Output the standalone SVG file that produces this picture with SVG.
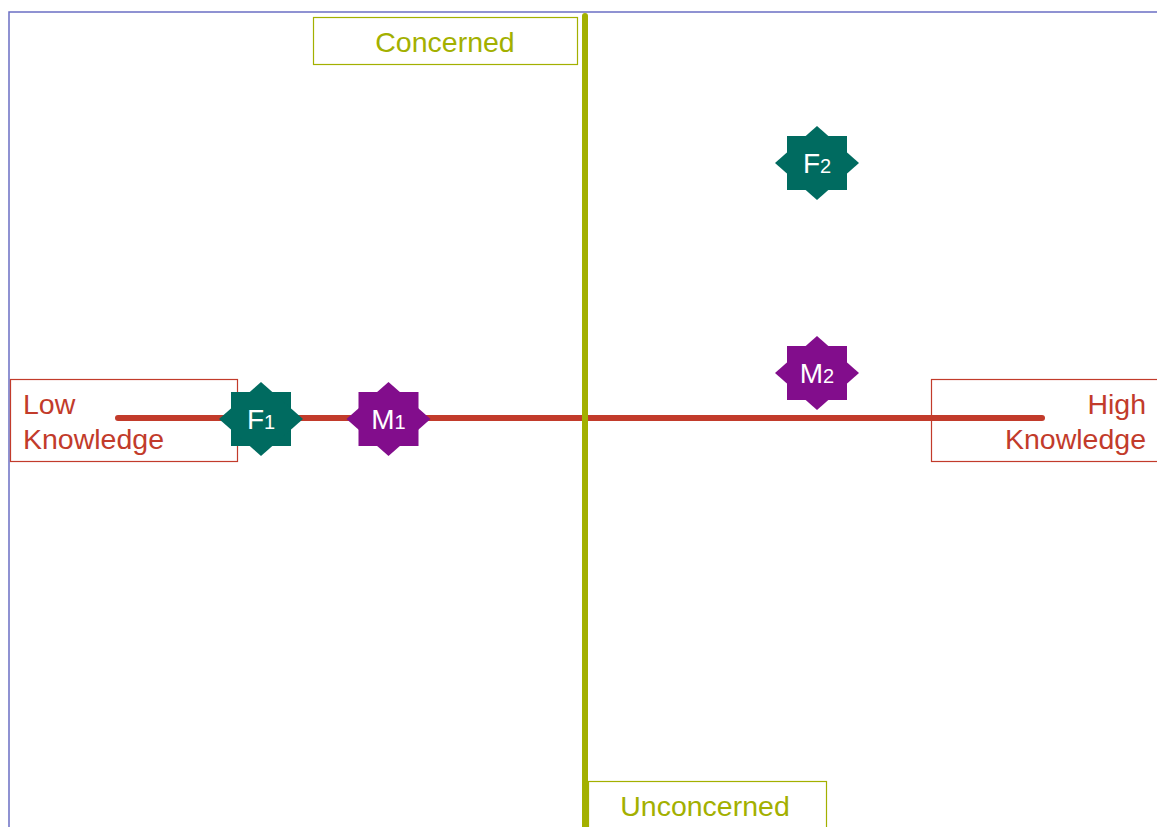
<svg xmlns="http://www.w3.org/2000/svg" width="1157" height="827" viewBox="0 0 1157 827">
<style>
.lbl{font-family:"Liberation Sans",Arial,sans-serif;font-size:28.5px}
.red{fill:#c23b2b}
.grn{fill:#a3b000}
.st{font-family:"Liberation Sans",Arial,sans-serif;fill:#ffffff;font-size:28px;text-anchor:middle}
.sub{font-size:20px}
.teal{fill:#006b60}
.purp{fill:#820d8c}
</style>
<defs>
<g id="star">
<rect x="-30" y="-27" width="60" height="54"/>
<polygon points="-42,0 0,-37 42,0 0,37"/>
</g>
</defs>
<rect width="1157" height="827" fill="#ffffff"/>
<g id="frame" fill="none" stroke="#6b6fc4" stroke-width="1.5">
<polyline points="9,827 9,12 1157,12"/>
</g>
<g id="connectors" stroke-linecap="round">
<line x1="118" y1="418" x2="1042" y2="418" stroke="#c23b2b" stroke-width="6"/>
<line x1="585" y1="16" x2="585" y2="830" stroke="#a3b000" stroke-width="6"/>
</g>
<g id="concerned">
<rect x="313.5" y="17.5" width="264" height="47" fill="none" stroke="#a3b000" stroke-width="1.2"/>
<text class="lbl grn" x="445" y="52" text-anchor="middle">Concerned</text>
</g>
<g id="unconcerned">
<rect x="588.5" y="781.5" width="238" height="60" fill="none" stroke="#a3b000" stroke-width="1.2"/>
<text class="lbl grn" x="705" y="816" text-anchor="middle">Unconcerned</text>
</g>
<g id="low">
<rect x="10.5" y="379.5" width="227" height="82" fill="none" stroke="#c23b2b" stroke-width="1.2"/>
<text class="lbl red" x="23" y="414">Low</text>
<text class="lbl red" x="23" y="449">Knowledge</text>
</g>
<g id="high">
<rect x="931.5" y="379.5" width="240" height="82" fill="none" stroke="#c23b2b" stroke-width="1.2"/>
<text class="lbl red" x="1146" y="414" text-anchor="end">High</text>
<text class="lbl red" x="1146" y="449" text-anchor="end">Knowledge</text>
</g>
<g id="F1">
<use href="#star" x="261" y="419" class="teal"/>
<text class="st" x="261" y="429">F<tspan class="sub">1</tspan></text>
</g>
<g id="M1">
<use href="#star" x="388.5" y="419" class="purp"/>
<text class="st" x="388.5" y="429">M<tspan class="sub">1</tspan></text>
</g>
<g id="F2">
<use href="#star" x="817" y="163" class="teal"/>
<text class="st" x="817" y="173">F<tspan class="sub">2</tspan></text>
</g>
<g id="M2">
<use href="#star" x="817" y="373" class="purp"/>
<text class="st" x="817" y="383">M<tspan class="sub">2</tspan></text>
</g>
</svg>
